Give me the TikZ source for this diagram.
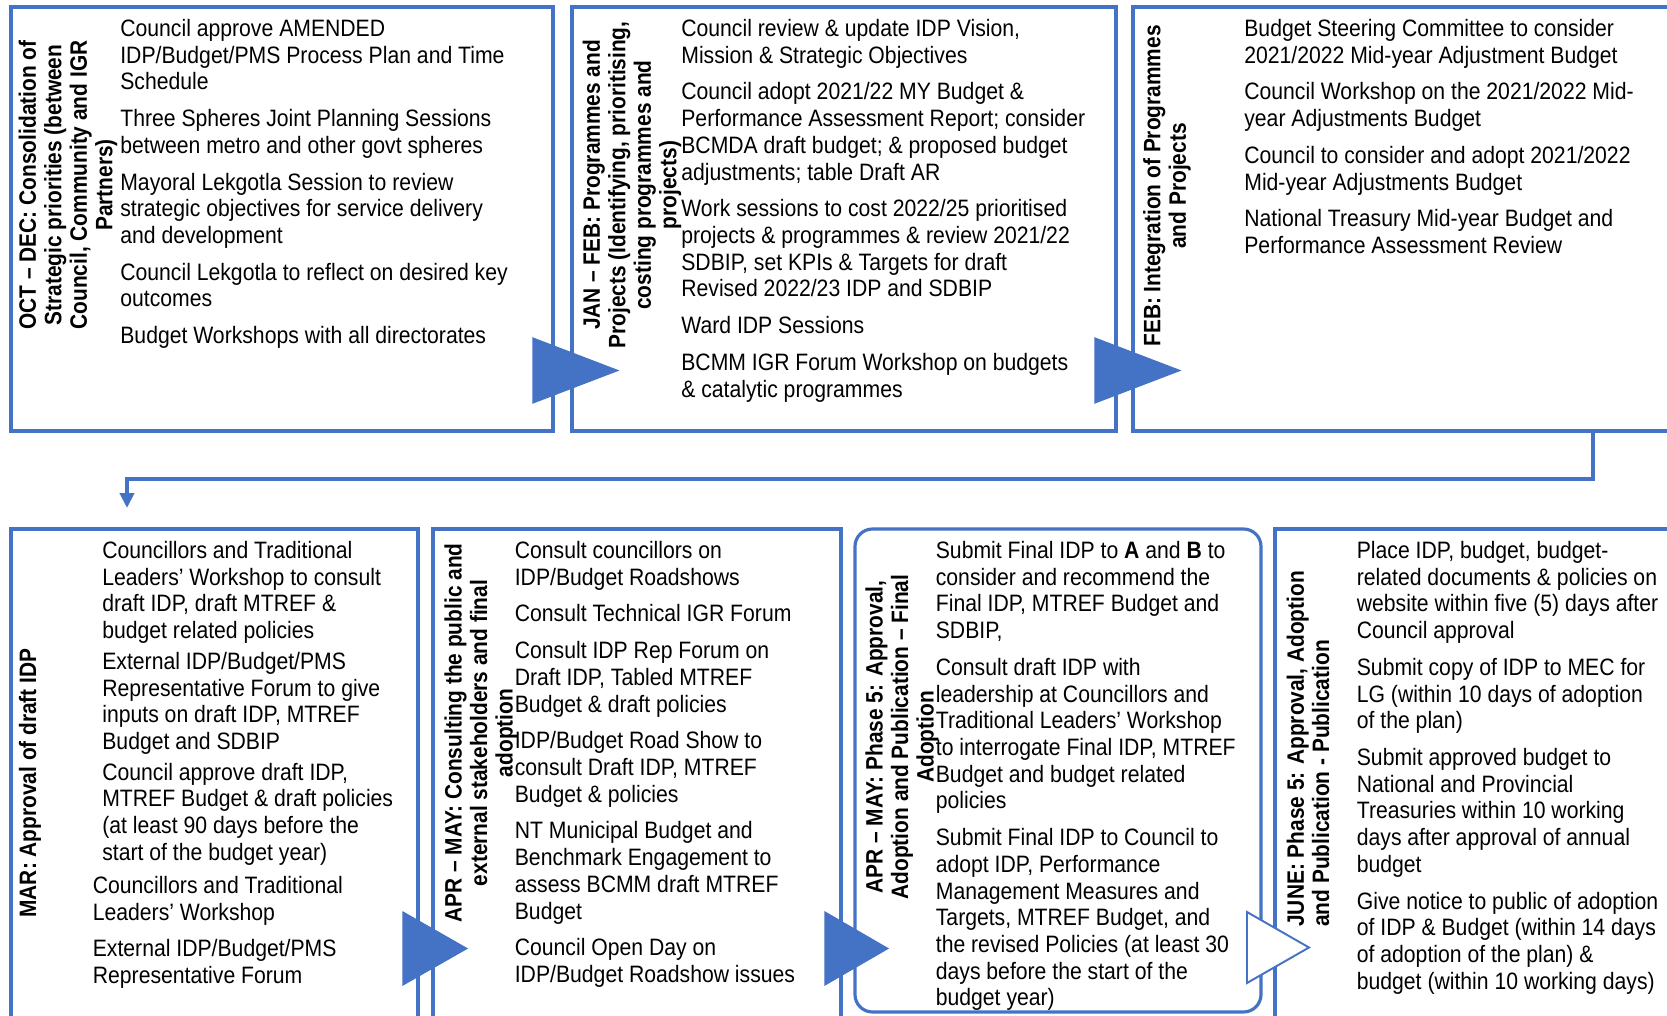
\documentclass[tikz,border=0pt]{standalone}
\usepackage{fontspec}
\setmainfont{Liberation Sans}[FakeStretch=0.893]
\newfontfamily\phasefont{Liberation Sans}[FakeStretch=0.88]
\usepackage{xcolor}
\definecolor{panelblue}{HTML}{4472C4}
\usetikzlibrary{arrows.meta,fit}

\tikzset{
  panel/.style={draw=panelblue, line width=1.8pt, inner sep=0pt},
  phase/.style={rotate=90, align=center, inner sep=0pt,
    font=\phasefont\fontsize{13.5}{14.5}\selectfont\bfseries},
  items/.style={anchor=north west, align=left, inner sep=0pt,
    font=\fontsize{13.5}{15.2}\selectfont},
  flow/.style={draw=panelblue, line width=2.3pt, -{Triangle[width=8pt,length=8.5pt]}},
  pointfill/.style={fill=panelblue, draw=panelblue, line width=0.6pt},
  pointopen/.style={fill=white, draw=panelblue, line width=1.1pt},
}
% gap between two items of one panel
\newcommand{\np}{\\[5.7pt]}

\begin{document}
\begin{tikzpicture}[x=0.02cm,y=-0.02cm]
  \useasboundingbox (0,0) rectangle (1667,1016);
  \clip (0,0) rectangle (1667,1016);

  % panels : top row
  \node[panel, fit={(11,7) (553,431)}] (t1) {};
  \node[panel, fit={(572,7) (1116,431)}] (t2) {};
  \node[panel, fit={(1133,7) (1700,431)}] (t3) {};
  % panels : bottom row
  \node[panel, fit={(11,529) (418,1040)}] (b1) {};
  \node[panel, fit={(433,529) (841,1040)}] (b2) {};
  \node[panel, rounded corners=0.35cm, fit={(855,529) (1261,1012)}] (b3) {};
  \node[panel, fit={(1275,529) (1700,1040)}] (b4) {};

  % phase titles, turned up the left side of each panel
  \node[phase] (t1lab) at (68,185) {OCT – DEC: Consolidation of\\Strategic priorities (between\\Council, Community and IGR\\Partners)};
  \node[phase] (t2lab) at (632,185) {JAN – FEB: Programmes and\\Projects (Identifying, prioritising,\\costing programmes and\\projects)};
  \node[phase] (t3lab) at (1167,186) {FEB: Integration of Programmes\\and Projects};
  \node[phase] (b1lab) at (30,783) {MAR: Approval of draft IDP};
  \node[phase] (b2lab) at (481,733) {APR – MAY: Consulting the public and\\external stakeholders and final\\adoption};
  \node[phase] (b3lab) at (902,737) {APR – MAY: Phase 5: Approval,\\Adoption and Publication – Final\\Adoption};
  \node[phase, align=left, anchor=west] (b4lab) at (1308,927) {JUNE: Phase 5: Approval, Adoption\\and Publication - Publication};

  % activities (top of first line = baseline - 17)
  \node[items] (t1txt) at (120,19) {Council approve AMENDED\\IDP/Budget/PMS Process Plan and Time\\Schedule\np
    Three Spheres Joint Planning Sessions\\between metro and other govt spheres\np
    Mayoral Lekgotla Session to review\\strategic objectives for service delivery\\and development\np
    Council Lekgotla to reflect on desired key\\outcomes\np
    Budget Workshops with all directorates};
  \node[items] (t2txt) at (681,19) {Council review \& update IDP Vision,\\Mission \& Strategic Objectives\np
    Council adopt 2021/22 MY Budget \&\\Performance Assessment Report; consider\\BCMDA draft budget; \& proposed budget\\adjustments; table Draft AR\np
    Work sessions to cost 2022/25 prioritised\\projects \& programmes \& review 2021/22\\SDBIP, set KPIs \& Targets for draft\\Revised 2022/23 IDP and SDBIP\np
    Ward IDP Sessions\np
    BCMM IGR Forum Workshop on budgets\\\& catalytic programmes};
  \node[items] (t3txt) at (1244,19) {Budget Steering Committee to consider\\2021/2022 Mid-year Adjustment Budget\np
    Council Workshop on the 2021/2022 Mid-\\year Adjustments Budget\np
    Council to consider and adopt 2021/2022\\Mid-year Adjustments Budget\np
    National Treasury Mid-year Budget and\\Performance Assessment Review};
  \node[items] (b1txt) at (102,541) {Councillors and Traditional\\Leaders’ Workshop to consult\\draft IDP, draft MTREF \&\\budget related policies\\[2.3pt]
    External IDP/Budget/PMS\\Representative Forum to give\\inputs on draft IDP, MTREF\\Budget and SDBIP\\[2.3pt]
    Council approve draft IDP,\\MTREF Budget \& draft policies\\(at least 90 days before the\\start of the budget year)};
  \node[items] (b1more) at (92.5,876) {Councillors and Traditional\\Leaders’ Workshop\np
    External IDP/Budget/PMS\\Representative Forum};
  \node[items] (b2txt) at (514.5,541) {Consult councillors on\\IDP/Budget Roadshows\np
    Consult Technical IGR Forum\np
    Consult IDP Rep Forum on\\Draft IDP, Tabled MTREF\\Budget \& draft policies\np
    IDP/Budget Road Show to\\consult Draft IDP, MTREF\\Budget \& policies\np
    NT Municipal Budget and\\Benchmark Engagement to\\assess BCMM draft MTREF\\Budget\np
    Council Open Day on\\IDP/Budget Roadshow issues};
  \node[items] (b3txt) at (935.5,541) {Submit Final IDP to \textbf{A} and \textbf{B} to\\consider and recommend the\\Final IDP, MTREF Budget and\\SDBIP,\np
    Consult draft IDP with\\leadership at Councillors and\\Traditional Leaders’ Workshop\\to interrogate Final IDP, MTREF\\Budget and budget related\\policies\np
    Submit Final IDP to Council to\\adopt IDP, Performance\\Management Measures and\\Targets, MTREF Budget, and\\the revised Policies (at least 30\\days before the start of the\\budget year)};
  \node[items] (b4txt) at (1356.5,541) {Place IDP, budget, budget-\\related documents \& policies on\\website within five (5) days after\\Council approval\np
    Submit copy of IDP to MEC for\\LG (within 10 days of adoption\\of the plan)\np
    Submit approved budget to\\National and Provincial\\Treasuries within 10 working\\days after approval of annual\\budget\np
    Give notice to public of adoption\\of IDP \& Budget (within 14 days\\of adoption of the plan) \&\\budget (within 10 working days)};

  % pointers between panels : style, base x, top y, tip x, bottom y
  \def\pointer#1#2#3#4#5{\filldraw[#1] (#2,#3) -- (#4,{(#3+#5)/2}) -- (#2,#5) -- cycle;}
  \pointer{pointfill}{533}{338}{618}{403}
  \pointer{pointfill}{1095}{338}{1180}{403}
  \pointer{pointfill}{403}{912}{467}{985}
  \pointer{pointfill}{825}{912}{888}{985}
  \pointer{pointopen}{1247}{912}{1309}{983}

  % return line from the top row down to the bottom row
  \coordinate (exit) at (1593,431);
  \coordinate (drop) at (127,508);
  \draw[flow] (exit) -- ++(0,48) -| (drop);
\end{tikzpicture}
\end{document}
